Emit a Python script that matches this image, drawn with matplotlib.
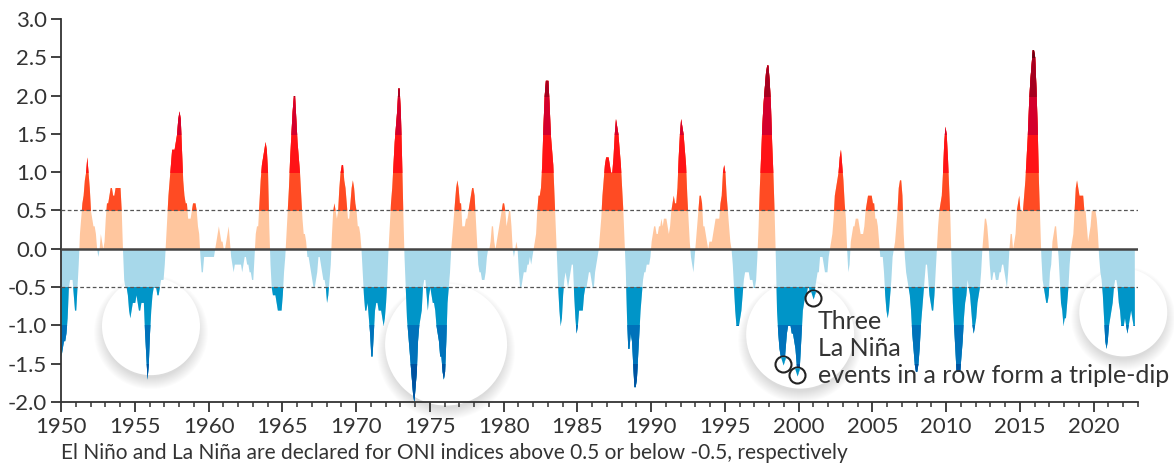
import numpy as np
import matplotlib.pyplot as plt
from matplotlib.patches import Rectangle
from matplotlib.ticker import MultipleLocator, FormatStrFormatter

plt.rcParams['font.family'] = ['Lato', 'DejaVu Sans']
plt.rcParams['axes.unicode_minus'] = False

# ONI, 3-month running seasons (DJF, JFM, ... NDJ), one row per year
oni_1950s = [
    -1.4, -1.3, -1.2, -1.2, -1.1, -0.9, -0.5, -0.4, -0.4, -0.4, -0.6, -0.8,
    -0.8, -0.5, -0.2, 0.2, 0.4, 0.6, 0.7, 0.9, 1.0, 1.2, 1.0, 0.8,
    0.5, 0.4, 0.3, 0.3, 0.2, 0.0, -0.1, 0.0, 0.2, 0.1, 0.0, 0.1,
    0.4, 0.6, 0.6, 0.7, 0.8, 0.8, 0.7, 0.7, 0.8, 0.8, 0.8, 0.8,
    0.8, 0.5, 0.0, -0.4, -0.5, -0.5, -0.6, -0.8, -0.9, -0.8, -0.7, -0.7,
    -0.7, -0.6, -0.7, -0.8, -0.8, -0.7, -0.7, -0.7, -1.1, -1.4, -1.7, -1.5,
    -1.1, -0.8, -0.6, -0.5, -0.5, -0.5, -0.6, -0.6, -0.5, -0.4, -0.4, -0.4,
    -0.2, 0.1, 0.4, 0.7, 0.9, 1.1, 1.3, 1.3, 1.3, 1.4, 1.5, 1.7,
    1.8, 1.7, 1.3, 0.9, 0.7, 0.6, 0.6, 0.4, 0.4, 0.4, 0.5, 0.6,
    0.6, 0.6, 0.5, 0.3, 0.2, -0.1, -0.3, -0.3, -0.1, -0.1, -0.1, -0.1,
]
oni_1960s = [
    -0.1, -0.1, -0.1, -0.1, -0.1, 0.0, 0.1, 0.2, 0.3, 0.2, 0.1, 0.1,
    0.0, 0.0, 0.1, 0.2, 0.3, 0.1, -0.1, -0.2, -0.3, -0.2, -0.2, -0.2,
    -0.2, -0.2, -0.2, -0.3, -0.2, -0.1, -0.1, -0.2, -0.2, -0.3, -0.3, -0.4,
    -0.4, -0.1, 0.2, 0.3, 0.3, 0.6, 0.9, 1.1, 1.2, 1.3, 1.4, 1.3,
    1.0, 0.3, -0.2, -0.5, -0.6, -0.6, -0.6, -0.7, -0.8, -0.8, -0.8, -0.8,
    -0.6, -0.3, -0.1, 0.2, 0.5, 0.8, 1.2, 1.5, 1.8, 2.0, 2.0, 1.7,
    1.4, 1.2, 1.0, 0.7, 0.4, 0.2, 0.2, 0.1, -0.1, -0.1, -0.2, -0.3,
    -0.4, -0.5, -0.5, -0.4, -0.3, -0.1, -0.1, -0.2, -0.3, -0.4, -0.4, -0.5,
    -0.7, -0.6, -0.4, -0.2, 0.2, 0.5, 0.6, 0.5, 0.4, 0.5, 0.8, 1.0,
    1.1, 1.1, 0.9, 0.8, 0.6, 0.4, 0.4, 0.6, 0.8, 0.9, 0.8, 0.6,
]
oni_1970s = [
    0.5, 0.3, 0.3, 0.2, 0.0, -0.3, -0.6, -0.8, -0.8, -0.7, -0.9, -1.1,
    -1.4, -1.4, -1.1, -0.8, -0.7, -0.7, -0.8, -0.8, -0.8, -0.9, -1.0, -0.9,
    -0.7, -0.4, 0.0, 0.3, 0.6, 0.8, 1.1, 1.4, 1.6, 1.8, 2.1, 2.1,
    1.8, 1.2, 0.5, -0.1, -0.5, -0.9, -1.1, -1.3, -1.5, -1.7, -1.9, -2.0,
    -1.8, -1.6, -1.2, -1.0, -0.9, -0.8, -0.5, -0.4, -0.4, -0.6, -0.8, -0.6,
    -0.5, -0.6, -0.7, -0.7, -0.8, -1.0, -1.1, -1.2, -1.4, -1.4, -1.6, -1.7,
    -1.6, -1.2, -0.7, -0.5, -0.3, 0.0, 0.2, 0.4, 0.6, 0.8, 0.9, 0.8,
    0.6, 0.6, 0.3, 0.3, 0.3, 0.4, 0.4, 0.5, 0.6, 0.7, 0.8, 0.8,
    0.7, 0.4, 0.1, -0.2, -0.3, -0.3, -0.4, -0.4, -0.4, -0.3, -0.1, 0.0,
    0.0, 0.1, 0.3, 0.3, 0.1, 0.0, 0.1, 0.2, 0.3, 0.4, 0.5, 0.6,
]
oni_1980s = [
    0.6, 0.5, 0.3, 0.4, 0.5, 0.5, 0.3, 0.0, -0.1, 0.0, 0.1, 0.0,
    -0.3, -0.5, -0.5, -0.4, -0.3, -0.3, -0.3, -0.2, -0.2, -0.1, -0.2, -0.1,
    0.0, 0.1, 0.2, 0.5, 0.7, 0.7, 0.8, 1.1, 1.6, 2.0, 2.2, 2.2,
    2.2, 1.9, 1.5, 1.3, 1.1, 0.7, 0.3, -0.1, -0.5, -0.8, -1.0, -0.9,
    -0.6, -0.4, -0.3, -0.4, -0.5, -0.4, -0.3, -0.2, -0.2, -0.6, -0.9, -1.1,
    -1.0, -0.8, -0.8, -0.8, -0.8, -0.6, -0.5, -0.5, -0.4, -0.3, -0.3, -0.4,
    -0.5, -0.5, -0.3, -0.2, -0.1, 0.0, 0.2, 0.4, 0.7, 0.9, 1.1, 1.2,
    1.2, 1.2, 1.1, 1.0, 1.0, 1.2, 1.5, 1.7, 1.6, 1.5, 1.3, 1.1,
    0.8, 0.5, 0.1, -0.3, -0.9, -1.3, -1.3, -1.1, -1.2, -1.5, -1.8, -1.8,
    -1.7, -1.4, -1.1, -0.8, -0.6, -0.4, -0.3, -0.3, -0.2, -0.2, -0.2, -0.1,
]
oni_1990s = [
    0.1, 0.2, 0.3, 0.3, 0.2, 0.2, 0.3, 0.3, 0.4, 0.3, 0.4, 0.4,
    0.4, 0.3, 0.2, 0.3, 0.5, 0.6, 0.7, 0.6, 0.6, 0.8, 1.2, 1.5,
    1.7, 1.6, 1.5, 1.3, 1.1, 0.7, 0.4, 0.1, -0.1, -0.2, -0.3, -0.1,
    0.1, 0.3, 0.5, 0.7, 0.7, 0.6, 0.3, 0.3, 0.2, 0.1, 0.0, 0.1,
    0.1, 0.1, 0.2, 0.3, 0.4, 0.4, 0.4, 0.4, 0.6, 0.7, 1.0, 1.1,
    1.0, 0.7, 0.5, 0.3, 0.1, 0.0, -0.2, -0.5, -0.8, -1.0, -1.0, -1.0,
    -0.9, -0.8, -0.6, -0.4, -0.3, -0.3, -0.3, -0.3, -0.4, -0.4, -0.4, -0.5,
    -0.5, -0.4, -0.1, 0.3, 0.8, 1.2, 1.6, 1.9, 2.1, 2.3, 2.4, 2.4,
    2.2, 1.9, 1.4, 1.0, 0.5, -0.1, -0.8, -1.1, -1.3, -1.4, -1.5, -1.6,
    -1.5, -1.3, -1.1, -1.0, -1.0, -1.0, -1.1, -1.1, -1.2, -1.3, -1.5, -1.7,
]
oni_2000s = [
    -1.7, -1.4, -1.1, -0.8, -0.7, -0.6, -0.6, -0.5, -0.5, -0.6, -0.7, -0.7,
    -0.7, -0.5, -0.4, -0.3, -0.3, -0.1, -0.1, -0.1, -0.2, -0.3, -0.3, -0.3,
    -0.1, 0.0, 0.1, 0.2, 0.4, 0.7, 0.8, 0.9, 1.0, 1.2, 1.3, 1.1,
    0.9, 0.6, 0.4, 0.0, -0.3, -0.2, 0.1, 0.2, 0.3, 0.3, 0.4, 0.4,
    0.4, 0.3, 0.2, 0.2, 0.2, 0.3, 0.5, 0.6, 0.7, 0.7, 0.7, 0.7,
    0.6, 0.6, 0.4, 0.4, 0.3, 0.1, -0.1, -0.1, -0.1, -0.3, -0.6, -0.8,
    -0.9, -0.8, -0.6, -0.4, -0.1, 0.0, 0.1, 0.3, 0.5, 0.8, 0.9, 0.9,
    0.7, 0.2, -0.1, -0.3, -0.4, -0.5, -0.6, -0.8, -1.1, -1.3, -1.5, -1.6,
    -1.6, -1.5, -1.3, -1.0, -0.8, -0.6, -0.4, -0.2, -0.2, -0.4, -0.6, -0.7,
    -0.8, -0.8, -0.6, -0.3, 0.0, 0.3, 0.5, 0.6, 0.7, 1.0, 1.4, 1.6,
]
oni_2010s = [
    1.5, 1.2, 0.8, 0.4, -0.2, -0.7, -1.0, -1.3, -1.6, -1.6, -1.6, -1.6,
    -1.4, -1.2, -0.9, -0.7, -0.6, -0.4, -0.5, -0.6, -0.8, -1.0, -1.1, -1.0,
    -0.9, -0.7, -0.6, -0.5, -0.3, 0.0, 0.2, 0.4, 0.4, 0.3, 0.1, -0.2,
    -0.4, -0.4, -0.3, -0.3, -0.4, -0.4, -0.4, -0.3, -0.3, -0.2, -0.2, -0.3,
    -0.4, -0.5, -0.3, 0.0, 0.2, 0.2, 0.0, 0.1, 0.2, 0.5, 0.6, 0.7,
    0.5, 0.5, 0.5, 0.7, 0.9, 1.2, 1.5, 1.9, 2.2, 2.4, 2.6, 2.6,
    2.5, 2.1, 1.6, 0.9, 0.4, -0.1, -0.4, -0.5, -0.6, -0.7, -0.7, -0.6,
    -0.3, -0.2, 0.1, 0.2, 0.3, 0.3, 0.1, -0.1, -0.4, -0.7, -0.8, -1.0,
    -0.9, -0.9, -0.7, -0.5, -0.2, 0.0, 0.1, 0.2, 0.5, 0.8, 0.9, 0.8,
    0.7, 0.7, 0.7, 0.7, 0.5, 0.5, 0.3, 0.1, 0.2, 0.3, 0.5, 0.5,
]
oni_2020s = [
    0.5, 0.5, 0.4, 0.2, -0.1, -0.3, -0.4, -0.6, -0.9, -1.2, -1.3, -1.2,
    -1.0, -0.9, -0.8, -0.7, -0.5, -0.4, -0.4, -0.5, -0.7, -0.8, -1.0, -1.0,
    -1.0, -0.9, -1.0, -1.1, -1.0, -0.9, -0.8, -0.9, -1.0, -1.0,
]

# colour bands: lower edge of each warm band, upper edge of each cold band
warm_edges = [0.0, 0.5, 1.0, 1.5, 2.0, 2.5]
warm_colors = ['#ffc69e', '#ff4b23', '#ff1316', '#d4002d', '#a5001f', '#6b0010']
cold_edges = [0.0, -0.5, -1.0, -1.5]
cold_colors = ['#a7d8ea', '#0095c8', '#0072ba', '#0052a0']

# highlighted triple-dip periods (centre year, centre value, radius in px)
circle_x = [1956.1, 1976.1, 2000.1, 2022.0]
circle_y = [-1.01, -1.25, -1.12, -0.83]
circle_r = [49, 61, 54, 44]

# the three dips of 1998-2001
dip_x = [1998.93, 1999.92, 2000.97]
dip_y = [-1.51, -1.65, -0.64]

oni = np.array(oni_1950s + oni_1960s + oni_1970s + oni_1980s + oni_1990s
               + oni_2000s + oni_2010s + oni_2020s)
years = 1950 + np.arange(len(oni)) / 12

W, H, DPI = 1174, 468, 100
fig = plt.figure(figsize=(W / DPI, H / DPI), dpi=DPI)
ax = fig.add_axes([61 / W, 1 - 402 / H, (1138 - 61) / W, (402 - 19) / H])
ax.set_xlim(1950, 2023)
ax.set_ylim(-2.0, 3.0)

px_per_unit = (402 - 19) / 5.0


def size_of(r_px):
    return (2 * r_px * 72 / DPI) ** 2


# white circles with a soft shadow underneath
for k in range(12):
    ax.scatter(circle_x, np.array(circle_y) - 6 / px_per_unit,
               s=[size_of(r - 3 + k) for r in circle_r],
               color='#000000', alpha=0.012, lw=0, zorder=1, clip_on=False)
ax.scatter(circle_x, circle_y, s=[size_of(r) for r in circle_r],
           color='white', lw=0, zorder=1.5, clip_on=False)

# layered fills, each one clipped to its band
for lo, c in zip(warm_edges, warm_colors):
    poly = ax.fill_between(years, 0, oni, color=c, lw=0, zorder=2)
    poly.set_clip_path(Rectangle((1950, lo), 73, 10, transform=ax.transData))
for hi, c in zip(cold_edges, cold_colors):
    poly = ax.fill_between(years, 0, oni, color=c, lw=0, zorder=2)
    poly.set_clip_path(Rectangle((1950, hi - 10), 73, 10, transform=ax.transData))

ax.axhline(0, color='#444444', lw=1.8, zorder=3)
for v in (0.5, -0.5):
    ax.axhline(v, color='#555555', lw=0.9, dashes=(3, 2), zorder=3)

# small magnifier circles on the three dips
ax.scatter(dip_x, dip_y, s=size_of(8), facecolor='white', edgecolor='#222222',
           lw=1.5, zorder=5, clip_on=False)
wedge = [(-0.35, 1.0), (0.35, 1.0), (0.0, -0.1)]
ax.scatter(dip_x, dip_y, s=size_of(7), marker=wedge, color='#0095c8',
           edgecolor='#0095c8', lw=0.3, zorder=6, clip_on=False)

ax.text(2001.3, -0.80, 'Three\nLa Niña\nevents in a row form a triple-dip',
        fontsize=18, color='#333333', va='top', ha='left', linespacing=1.2,
        zorder=7)

for side in ('top', 'right'):
    ax.spines[side].set_visible(False)
for side in ('left', 'bottom'):
    ax.spines[side].set_color('#333333')
    ax.spines[side].set_linewidth(1.3)

ax.xaxis.set_major_locator(MultipleLocator(5))
ax.xaxis.set_minor_locator(MultipleLocator(1))
ax.yaxis.set_major_locator(MultipleLocator(0.5))
ax.yaxis.set_major_formatter(FormatStrFormatter('%.1f'))
ax.tick_params(axis='x', which='major', length=7, width=1.3, color='#333333',
               labelsize=16, labelcolor='#333333', pad=4)
ax.tick_params(axis='x', which='minor', length=3.5, width=1.1, color='#333333')
ax.tick_params(axis='y', length=7, width=1.3, color='#333333',
               labelsize=16, labelcolor='#333333', pad=3)

fig.text(61 / W, 1 - 459 / H,
         'El Niño and La Niña are declared for ONI indices above 0.5 or below -0.5, respectively',
         fontsize=15, color='#333333', va='baseline', ha='left')

fig.savefig('out.png', dpi=DPI)
